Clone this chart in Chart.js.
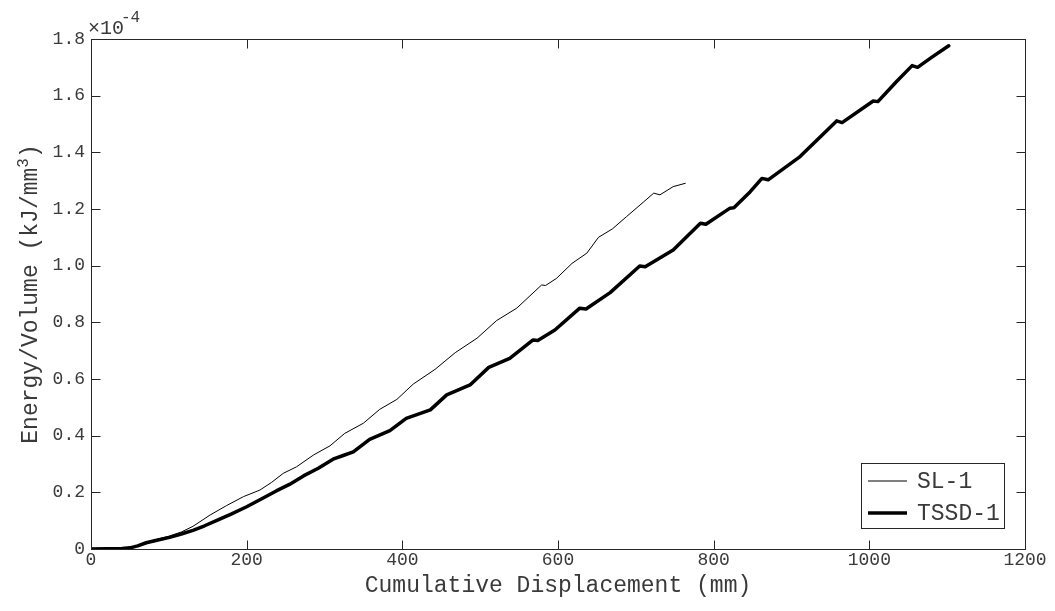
<!DOCTYPE html>
<html lang="en">
<head>
<meta charset="UTF-8">
<title>Energy/Volume vs Cumulative Displacement</title>
<script src="https://cdn.jsdelivr.net/npm/chart.js"></script>
<style>
  body { margin: 0; background: #fff; }
  #wrap { width: 1055px; height: 611px; }
</style>
</head>
<body>
<div id="wrap"><canvas id="energyChart" width="1055" height="611"></canvas></div>
<script>
// cumulative displacement (mm) / energy per volume (in units of 1e-4 kJ/mm^3)
const slDisp = [0, 20, 40, 50, 60, 71, 86, 101, 116, 131, 153, 174, 196, 217, 232, 247, 264, 286, 307, 326,
  350, 371, 393, 414, 442, 468, 496, 521, 547, 579, 584, 598, 618, 637, 652, 670, 688, 710, 723, 731, 748, 764];
const slEnergy = [0, 0.001, 0.002, 0.004, 0.012, 0.024, 0.035, 0.046, 0.06, 0.08, 0.12, 0.153, 0.185, 0.208, 0.235, 0.267, 0.29, 0.332, 0.364, 0.408,
  0.444, 0.493, 0.528, 0.582, 0.634, 0.693, 0.744, 0.806, 0.85, 0.932, 0.93, 0.955, 1.008, 1.044, 1.1, 1.13, 1.173, 1.225, 1.256, 1.25, 1.279, 1.291];

const tssdDisp = [0, 20, 40, 50, 60, 71, 86, 101, 116, 131, 146, 161, 180, 200, 220, 238, 255, 273, 292, 311,
  324, 337, 358, 384, 405, 436, 457, 487, 511, 538, 568, 574, 596, 628, 636, 667, 705, 712, 748, 783, 790,
  821, 826, 847, 862, 870, 911, 958, 965, 1005, 1011, 1035, 1055, 1062, 1080, 1102];
const tssdEnergy = [0, 0.001, 0.002, 0.004, 0.011, 0.022, 0.032, 0.041, 0.053, 0.066, 0.082, 0.1, 0.123, 0.149, 0.178, 0.205, 0.228, 0.258, 0.285, 0.317,
  0.33, 0.343, 0.387, 0.418, 0.461, 0.491, 0.544, 0.579, 0.641, 0.673, 0.738, 0.736, 0.773, 0.85, 0.847, 0.905, 0.999, 0.996, 1.055, 1.15, 1.146,
  1.203, 1.204, 1.261, 1.308, 1.303, 1.385, 1.511, 1.505, 1.581, 1.579, 1.65, 1.706, 1.7, 1.735, 1.776];

const xTicks = [0, 200, 400, 600, 800, 1000, 1200];
const yTicks = [0, 0.2, 0.4, 0.6, 0.8, 1.0, 1.2, 1.4, 1.6, 1.8];
const yTickLabels = ['0', '0.2', '0.4', '0.6', '0.8', '1.0', '1.2', '1.4', '1.6', '1.8'];

const INK = '#262626';
const TEXT = '#3a3a3a';
const MONO = '"Liberation Mono", "Courier New", monospace';

const toPoints = (xs, ys) => xs.map((v, i) => ({ x: v, y: ys[i] }));

// box, inward ticks on all four sides, axis titles, exponent and legend
const decorations = {
  id: 'decorations',
  afterDraw(chart) {
    const { ctx, chartArea: a, scales: { x, y } } = chart;
    const L = Math.round(a.left) + 0.5, R = Math.round(a.right) + 0.5;
    const T = Math.round(a.top) + 0.5, B = Math.round(a.bottom) + 0.5;
    const tick = 9;

    ctx.save();
    ctx.strokeStyle = INK;
    ctx.lineWidth = 1;
    ctx.strokeRect(L, T, R - L, B - T);

    ctx.beginPath();
    xTicks.forEach(v => {
      const px = Math.round(x.getPixelForValue(v)) + 0.5;
      ctx.moveTo(px, B); ctx.lineTo(px, B - tick);
      ctx.moveTo(px, T); ctx.lineTo(px, T + tick);
    });
    yTicks.forEach(v => {
      const py = Math.round(y.getPixelForValue(v)) + 0.5;
      ctx.moveTo(L, py); ctx.lineTo(L + tick, py);
      ctx.moveTo(R, py); ctx.lineTo(R - tick, py);
    });
    ctx.stroke();

    ctx.fillStyle = TEXT;
    ctx.textBaseline = 'alphabetic';

    // x10^-4 exponent
    ctx.font = '20px ' + MONO;
    ctx.textAlign = 'left';
    ctx.fillText('\u00d710', 88, 34);
    const expX = 88 + ctx.measureText('\u00d710').width - 3;
    ctx.font = '16px ' + MONO;
    ctx.fillText('-4', expX, 22);

    // x axis title
    ctx.font = '23px ' + MONO;
    ctx.textAlign = 'center';
    ctx.fillText('Cumulative Displacement (mm)', (a.left + a.right) / 2, 592);

    // y axis title with superscript
    ctx.save();
    ctx.translate(37, (a.top + a.bottom) / 2);
    ctx.rotate(-Math.PI / 2);
    ctx.textAlign = 'left';
    ctx.font = '23px ' + MONO;
    const main = 'Energy/Volume (kJ/mm';
    const wMain = ctx.measureText(main).width;
    const wClose = ctx.measureText(')').width;
    ctx.font = '16px ' + MONO;
    const wSup = ctx.measureText('3').width;
    let cx = -(wMain + wSup + wClose) / 2;
    ctx.font = '23px ' + MONO;
    ctx.fillText(main, cx, 0);
    cx += wMain;
    ctx.font = '16px ' + MONO;
    ctx.fillText('3', cx, -9);
    cx += wSup;
    ctx.font = '23px ' + MONO;
    ctx.fillText(')', cx, 0);
    ctx.restore();

    // legend
    const lx = 861.5, ly = 463.5, lw = 143, lh = 65;
    ctx.fillStyle = '#fff';
    ctx.fillRect(lx, ly, lw, lh);
    ctx.strokeStyle = INK;
    ctx.lineWidth = 1;
    ctx.strokeRect(lx, ly, lw, lh);
    const rows = [
      { label: 'SL-1', width: 1, yc: 481 },
      { label: 'TSSD-1', width: 3.5, yc: 513 }
    ];
    rows.forEach(r => {
      ctx.beginPath();
      ctx.strokeStyle = '#000';
      ctx.lineWidth = r.width;
      ctx.moveTo(868, r.yc);
      ctx.lineTo(907, r.yc);
      ctx.stroke();
      ctx.fillStyle = TEXT;
      ctx.font = '23px ' + MONO;
      ctx.textAlign = 'left';
      ctx.textBaseline = 'middle';
      ctx.fillText(r.label, 917, r.yc + 1);
    });
    ctx.restore();
  }
};

new Chart(document.getElementById('energyChart'), {
  type: 'line',
  data: {
    datasets: [
      {
        label: 'SL-1',
        data: toPoints(slDisp, slEnergy),
        borderColor: '#000',
        borderWidth: 1,
        pointRadius: 0,
        tension: 0
      },
      {
        label: 'TSSD-1',
        data: toPoints(tssdDisp, tssdEnergy),
        borderColor: '#000',
        borderWidth: 3.5,
        borderCapStyle: 'round',
        borderJoinStyle: 'round',
        pointRadius: 0,
        tension: 0
      }
    ]
  },
  options: {
    responsive: false,
    animation: false,
    devicePixelRatio: 1,
    layout: { padding: { top: 39, right: 30, left: 0, bottom: 0 } },
    plugins: { legend: { display: false }, tooltip: { enabled: false } },
    scales: {
      x: {
        type: 'linear',
        min: 0,
        max: 1200,
        afterBuildTicks: s => { s.ticks = xTicks.map(v => ({ value: v })); },
        afterFit: s => { s.height = 62; },
        grid: { display: false, drawTicks: false },
        border: { display: false },
        ticks: {
          color: TEXT,
          padding: 2,
          maxRotation: 0,
          font: { family: MONO, size: 18, lineHeight: 1 },
          callback: v => String(v)
        }
      },
      y: {
        type: 'linear',
        min: 0,
        max: 1.8,
        afterBuildTicks: s => { s.ticks = yTicks.map(v => ({ value: v })); },
        afterFit: s => { s.width = 91; },
        grid: { display: false, drawTicks: false },
        border: { display: false },
        ticks: {
          color: TEXT,
          padding: 6,
          font: { family: MONO, size: 18, lineHeight: 1 },
          callback: (v, i) => yTickLabels[i]
        }
      }
    }
  },
  plugins: [decorations]
});
</script>
</body>
</html>
